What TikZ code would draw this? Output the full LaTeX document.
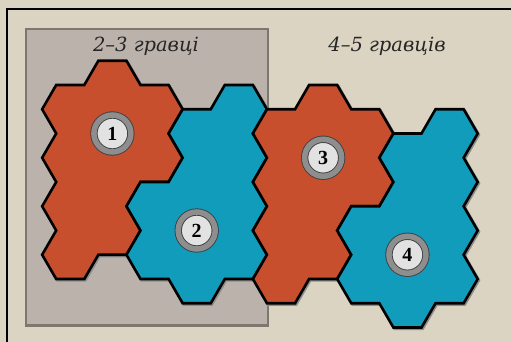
\documentclass[tikz,border=0pt]{standalone}
\usepackage{fontspec}
\setmainfont{Liberation Serif}
\newfontfamily\headfont{DejaVu Serif}
\usepackage{tikz}

\definecolor{parchment}{HTML}{DCD4C2}
\definecolor{zonefill}{HTML}{BBB2AC}
\definecolor{zoneedge}{HTML}{7C776F}
\definecolor{tileorange}{HTML}{C84F2E}
\definecolor{tileblue}{HTML}{129CBB}
\definecolor{ringgray}{HTML}{8E8E8E}
\definecolor{tokenface}{HTML}{E2E2E2}

% outlines of the two tile shapes, in half-hex units
\def\tileleft{(7,2) -- (9,2) -- (10,3) -- (12,3) -- (13,4) -- (12,5) -- (13,6) -- (12,7) -- (10,7) -- (9,8) -- (10,9) -- (9,10) -- (7,10) -- (6,11) -- (4,11) -- (3,10) -- (4,9) -- (3,8) -- (4,7) -- (3,6) -- (4,5) -- (3,4) -- (4,3) -- (6,3) -- cycle}
\def\tileright{(16,3) -- (18,3) -- (19,4) -- (18,5) -- (19,6) -- (18,7) -- (19,8) -- (18,9) -- (19,10) -- (18,11) -- (16,11) -- (15,12) -- (13,12) -- (12,11) -- (10,11) -- (9,10) -- (10,9) -- (9,8) -- (10,7) -- (12,7) -- (13,6) -- (12,5) -- (13,4) -- (15,4) -- cycle}

\begin{document}
\begin{tikzpicture}[x=1pt, y=-1pt,
  piece/.style={draw=black, line width=2.6pt, line join=miter,
    preaction={draw=black!45, line width=2.6pt, transform canvas={shift={(1.2pt,-1.2pt)}}}},
  token/.style={circle, draw=black!75, line width=0.9pt, double=ringgray, double distance=5.5pt,
    fill=tokenface, minimum size=37pt, inner sep=0pt, font=\bfseries\fontsize{20}{22}\selectfont},
  heading/.style={anchor=base, text=black!85, font=\headfont\itshape\fontsize{19.5}{23}\selectfont}]
  \useasboundingbox (0,0) rectangle (511,342);
  \fill[parchment] (0,0) rectangle (511,342);
  \draw[line width=2pt] (7,342) -- (7,9) -- (511,9);
  \draw[fill=zonefill, draw=zoneedge, line width=2.2pt] (26,29) rectangle (268,325.5);
  \node[heading] (small) at (146,52) {2–3 гравці};
  \node[heading] (large) at (387,52) {4–5 гравців};
  \begin{scope}[shift={(0,12.25)}, x=14.05pt, y=-24.25pt]
    \foreach \dx/\dy in {0/0, 15/1} {
      \begin{scope}[shift={(\dx,\dy)}]
        \draw[piece, fill=tileorange] \tileleft;
        \draw[piece, fill=tileblue] \tileright;
      \end{scope}
    }
    \node[token] (tok1) at (8,5) {1};
    \node[token] (tok2) at (14,9) {2};
    \node[token] (tok3) at (23,6) {3};
    \node[token] (tok4) at (29,10) {4};
  \end{scope}
\end{tikzpicture}
\end{document}
